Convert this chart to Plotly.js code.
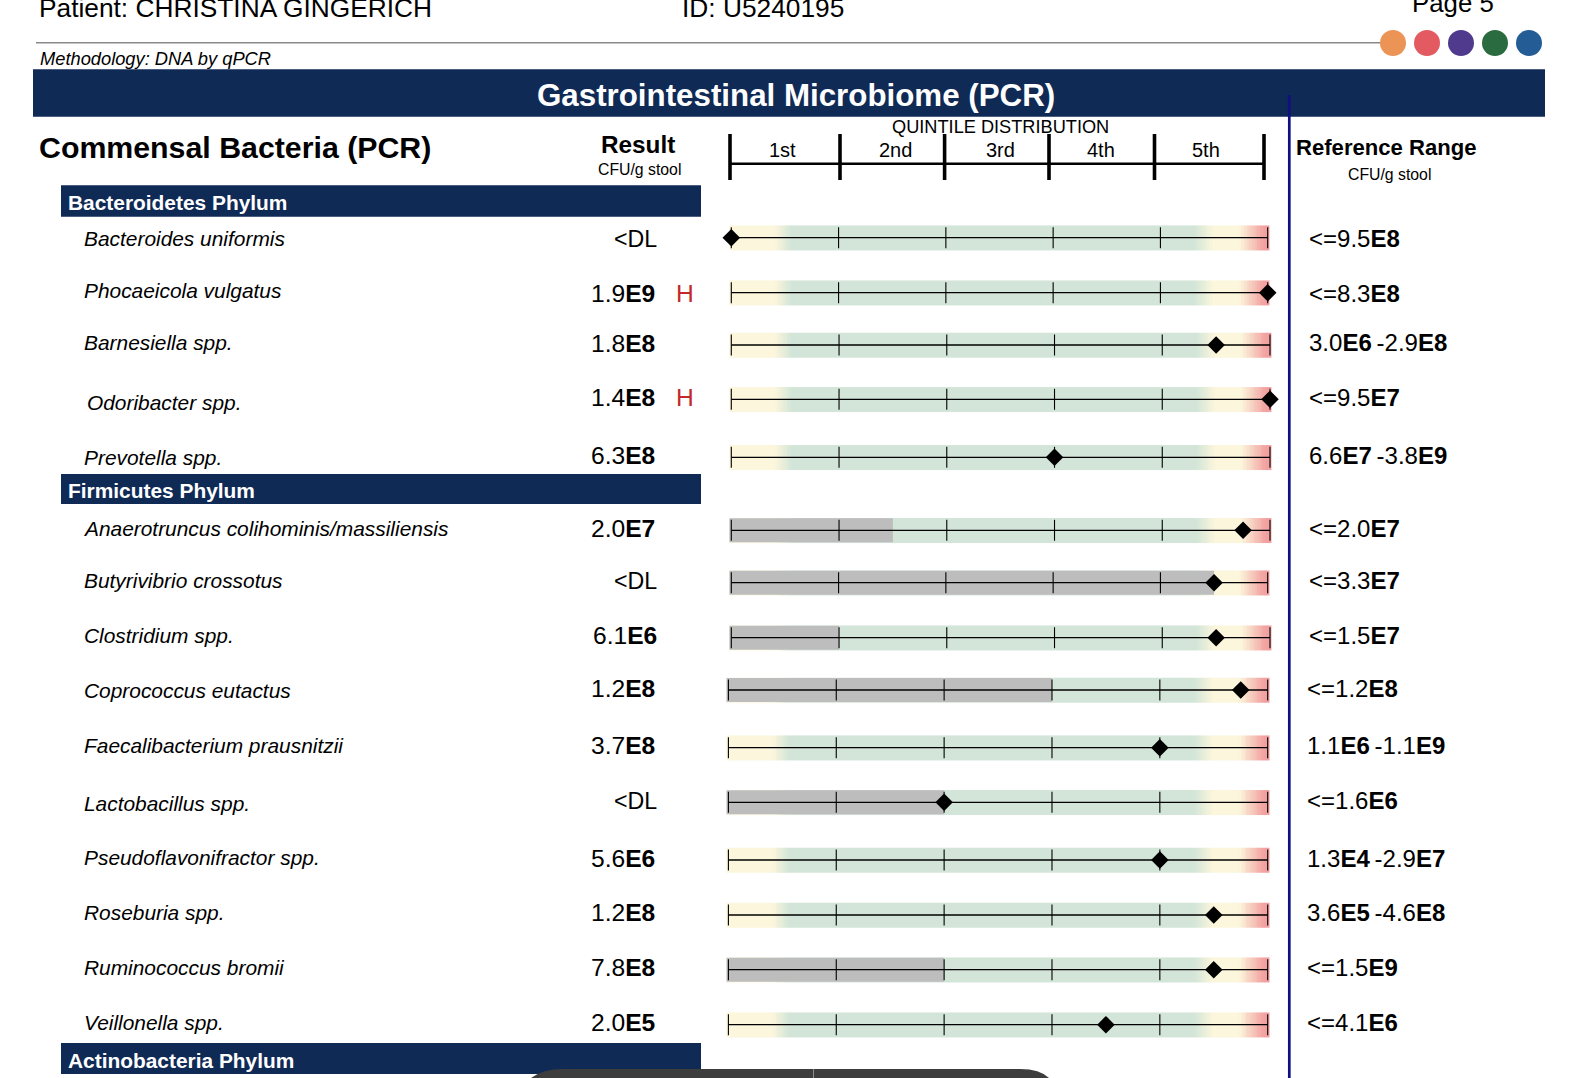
<!DOCTYPE html>
<html><head><meta charset="utf-8">
<script src="https://cdn.plot.ly/plotly-3.0.1.min.js"></script>
<style>html,body{margin:0;padding:0;background:#fff;overflow:hidden}#c{width:1592px;height:1078px}</style>
</head><body><div id="c"></div>
<script>
// ---- data ----
const bacteria = ["Bacteroides uniformis","Phocaeicola vulgatus","Barnesiella spp.","Odoribacter spp.","Prevotella spp.","Anaerotruncus colihominis/massiliensis","Butyrivibrio crossotus","Clostridium spp.","Coprococcus eutactus","Faecalibacterium prausnitzii","Lactobacillus spp.","Pseudoflavonifractor spp.","Roseburia spp.","Ruminococcus bromii","Veillonella spp."];
const results = ["<DL","1.9E9","1.8E8","1.4E8","6.3E8","2.0E7","<DL","6.1E6","1.2E8","3.7E8","<DL","5.6E6","1.2E8","7.8E8","2.0E5"];
const flags = ["","H","","H","","","","","","","","","","",""];
const refRanges = ["<=9.5E8","<=8.3E8","3.0E6-2.9E8","<=9.5E7","6.6E7-3.8E9","<=2.0E7","<=3.3E7","<=1.5E7","<=1.2E8","1.1E6-1.1E9","<=1.6E6","1.3E4-2.9E7","3.6E5-4.6E8","<=1.5E9","<=4.1E6"];
const percentile = [0,100,90,100,60,95,90,90,95,80,40,80,90,90,70];
const belowDetection = [0,0,0,0,0,30,90,20,60,0,40,0,0,40,0];
const quintileEdges = [0,20,40,60,80,100];
const quintileLabels = ["1st","2nd","3rd","4th","5th"];
const phyla = ["Bacteroidetes Phylum","Firmicutes Phylum","Actinobacteria Phylum"];

// ---- page layout ----
const W = 1592, H = 1078;
const rowY   = [237.7,292.7,345,399.3,457.3,530.3,582.7,637.7,690,747.7,802.3,860,915,969.7,1024.7];
const nameY  = [238,290.4,342.6,402,457.6,528.4,580,635.2,690,745,803,857,912,967.4,1022];
const resY   = [238.6,293.2,343,397.4,455.2,528.2,581,635.8,688.4,745.4,801,858.2,912.4,967,1022.4];
const refY   = [238.6,293.2,342.4,397.6,455.2,528.2,580.2,635.2,688.4,745.2,800.4,858.2,912.4,967,1022.4];
const nameX  = [84.3,84.3,84.3,87,84.3,83,84.3,84.3,84.3,84.3,84.3,84.3,84.3,84.3,84.3];
const rowAxis = ["x","x","x2","x2","x2","x2","x","x2","x3","x3","x3","x3","x3","x3","x3"];
const axisSpan = {x:[731.3,1267.7], x2:[731.3,1270], x3:[728.4,1267.7]};
const phylumBox = [[185.3,216.7],[474,504],[1043,1074]];
const headerTicks = [730,840,944.6,1049,1154.5,1264];
const headerLabelX = [782.5,895,1000,1101,1206];
const dotX = [1393,1427,1461,1495,1529];
const dotColors = ["#ec9356","#e35a60","#4f3a8e","#2a6b3f","#245d96"];

const NAVY = "#102a56", FONT = "Liberation Sans, Arial, sans-serif";
const bandScale = [[0,"#fbf6dc"],[0.08,"#fbf6dc"],[0.11,"#d2e5d8"],[0.86,"#d2e5d8"],[0.895,"#fbf6dc"],[0.945,"#fbf6dc"],[0.99,"#f2a0a0"],[1,"#f2a0a0"]];
const BAND_H = 24.5, LO = -0.35, HI = 100.35;

const gridEdges = []; for (let i = LO; i < HI; i += 0.5) gridEdges.push(i); gridEdges.push(HI);
const gridZ = gridEdges.slice(0,-1).map(v => v);

const traces = [];
bacteria.forEach((name,i) => {
  const xa = rowAxis[i], c = rowY[i];
  traces.push({type:"heatmap", xaxis:xa, yaxis:"y", x:gridEdges, y:[c-BAND_H/2,c+BAND_H/2], z:[gridZ], zmin:0, zmax:100, colorscale:bandScale, showscale:false, hoverinfo:"skip", name});
  if (belowDetection[i] > 0) traces.push({type:"bar", orientation:"h", xaxis:xa, yaxis:"y", y:[c], x:[belowDetection[i]-LO], base:[LO], width:[BAND_H-0.5], marker:{color:"#bdbdbd",line:{width:0}}, hoverinfo:"skip", showlegend:false});
  traces.push({type:"scatter", mode:"lines+markers", xaxis:xa, yaxis:"y", x:quintileEdges, y:quintileEdges.map(()=>c), line:{color:"#000",width:1.3}, marker:{symbol:"line-ns",size:15,line:{color:"#000",width:1.1}}, hoverinfo:"skip", showlegend:false});
  traces.push({type:"scatter", mode:"markers", xaxis:xa, yaxis:"y", x:[percentile[i]], y:[c], marker:{symbol:"diamond",size:13.5,color:"#000"}, name, showlegend:false});
});

const xAxisFor = k => {
  const [s,e] = axisSpan[k], u = (e-s)/100;
  return {domain:[(s-2*u)/W,(e+2*u)/W], range:[-2,102], visible:false, fixedrange:true, anchor:"y"};
};
const rect = (x0,x1,y0,y1,color) => ({type:"rect",xref:"paper",yref:"y",x0:x0/W,x1:x1/W,y0,y1,fillcolor:color,line:{width:0}});
const seg = (x0,x1,y0,y1,color,width) => ({type:"line",xref:"paper",yref:"y",x0:x0/W,x1:x1/W,y0,y1,line:{color,width}});

const shapes = [
  seg(36,1400,42.7,42.7,"#8a8a8a",1.6),
  rect(33,1545,69.3,116.7,NAVY),
  seg(1289.3,1289.3,95,H,"#101080",2.7),
  seg(730,1264,163.7,163.7,"#000",2.4)
];
headerTicks.forEach(x => shapes.push(seg(x,x,134,180,"#000",3.6)));
phylumBox.forEach(b => shapes.push(rect(61,701,b[0],b[1],NAVY)));
dotX.forEach((x,i) => shapes.push({type:"circle",xref:"paper",yref:"y",x0:(x-13)/W,x1:(x+13)/W,y0:30,y1:56,fillcolor:dotColors[i],line:{width:0}}));
// dark overlay at the lower edge of the screenshot
const px = v => (v/W).toFixed(5);
shapes.push({type:"path",xref:"paper",yref:"y",path:`M ${px(531)} 1078 Q ${px(543)} 1069 ${px(563)} 1069 L ${px(1020)} 1069 Q ${px(1040)} 1069 ${px(1049)} 1078 Z`,fillcolor:"#3d3d3d",line:{width:0}});
shapes.push(seg(813.5,813.5,1069,1078,"#8c8c8c",1));

const bold = s => s.replace(/E\d/g,"<b>$&</b>").replace(/<(?=[=D])/g,"&lt;");
const spaced = s => bold(s).replace("</b>-","</b>\u2009-");
const ann = (text,x,y,size,opt={}) => Object.assign({text,xref:"paper",yref:"y",x:x/W,y,xanchor:"left",yanchor:"middle",showarrow:false,font:{family:FONT,size,color:"#000"},borderpad:0,borderwidth:0},opt);
const mid = {xanchor:"center"}, right = {xanchor:"right"};

const annotations = [
  ann("Patient: CHRISTINA GINGERICH",38.6,8.2,26.3),
  ann("ID: U5240195",682,8.2,26.3),
  ann("Page 5",1412,3,25.8),
  ann("<i>Methodology: DNA by qPCR</i>",40,58,18.3),
  ann("<b>Gastrointestinal Microbiome (PCR)</b>",795.5,95,31.3,{xanchor:"center",font:{family:FONT,size:31.3,color:"#fff"}}),
  ann("<b>Commensal Bacteria (PCR)</b>",38.6,147.5,30.3),
  ann("<b>Result</b>",638,144,24.3,mid),
  ann("CFU/g stool",639.5,169.2,15.8,mid),
  ann("QUINTILE DISTRIBUTION",1000,127,18.2,mid),
  ann("<b>Reference Range</b>",1295.6,147,22.1),
  ann("CFU/g stool",1389.4,174.2,15.8,mid)
];
quintileLabels.forEach((t,i) => annotations.push(ann(t,headerLabelX[i],150,20,mid)));
phyla.forEach((t,i) => annotations.push(ann("<b>"+t+"</b>",68,(phylumBox[i][0]+phylumBox[i][1])/2+1+(i===2?1:0),20.9,{font:{family:FONT,size:20.9,color:"#fff"}})));
bacteria.forEach((name,i) => {
  annotations.push(ann("<i>"+name+"</i>", nameX[i], nameY[i], 20.9));
  const dl = results[i][0]==="<";
  annotations.push(ann(bold(results[i]), dl||i===7?657:654.5, resY[i], dl?23.2:24.6, right));
  if (flags[i]) annotations.push(ann(flags[i],685,resY[i],24.6,{xanchor:"center",font:{family:FONT,size:24.6,color:"#c22a2a"}}));
  annotations.push(ann(spaced(refRanges[i]), i<8?1309:1306.7, refY[i], 24));
});

const layout = {
  width:W, height:H, margin:{l:0,r:0,t:0,b:0}, autosize:false, showlegend:false,
  paper_bgcolor:"#fff", plot_bgcolor:"rgba(0,0,0,0)",
  xaxis:xAxisFor("x"), xaxis2:xAxisFor("x2"), xaxis3:xAxisFor("x3"),
  yaxis:{domain:[0,1], range:[H,0], visible:false, fixedrange:true, anchor:"x"},
  shapes, annotations
};
Plotly.newPlot("c",traces,layout,{displayModeBar:false,staticPlot:true});
</script></body></html>
